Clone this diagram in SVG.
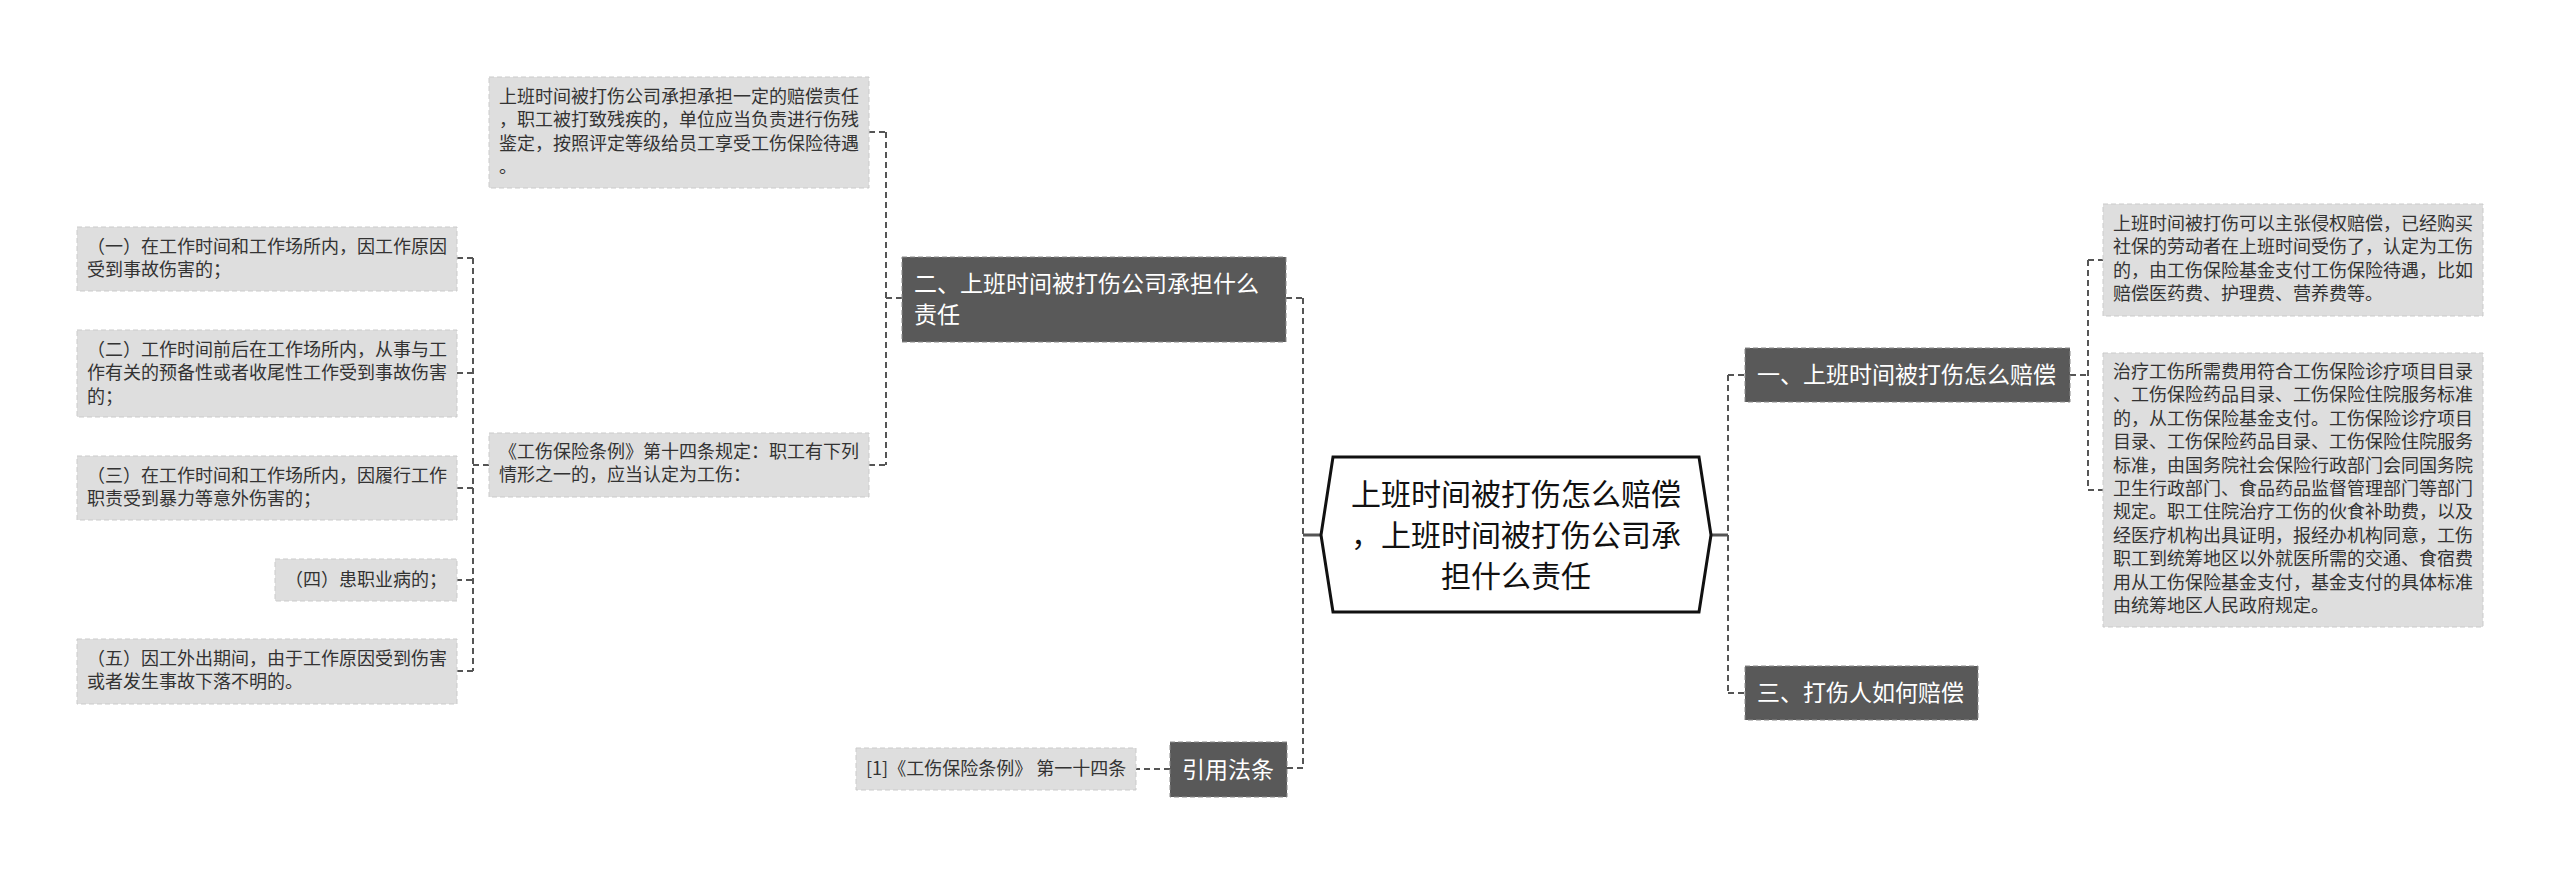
<svg xmlns="http://www.w3.org/2000/svg" width="2560" height="874" viewBox="0 0 2560 874">
<style>
.bg{fill:#ffffff}
.leaf{fill:#dedede;stroke:#cbcbcb;stroke-width:1;stroke-dasharray:5 3}
.topic{fill:#595959;stroke:#8a8a8a;stroke-width:1;stroke-dasharray:5 3}
.root{fill:#ffffff;stroke:#111111;stroke-width:3;stroke-linejoin:miter}
.lt{font-family:"Noto Sans CJK SC","Noto Sans",sans-serif;font-size:18px;fill:#333333}
.tt{font-family:"Noto Sans CJK SC","Noto Sans",sans-serif;font-size:23px;fill:#ffffff}
.rt{font-family:"Noto Sans CJK SC","Noto Sans",sans-serif;font-size:30px;fill:#111111;text-anchor:middle}
.c{fill:none;stroke:#555555;stroke-width:2;stroke-dasharray:6 4}
.s{fill:none;stroke:#555555;stroke-width:3}
</style>
<rect class="bg" x="0" y="0" width="2560" height="874"/>

<g id="connectors">
  <path class="s" d="M1303 535H1321"/>
  <path class="s" d="M1711 535H1728"/>
  <path class="c" d="M1303 298V768"/>
  <path class="c" d="M1286 298H1303"/>
  <path class="c" d="M1287 768H1303"/>
  <path class="c" d="M902 298H886"/>
  <path class="c" d="M886 132V465"/>
  <path class="c" d="M869 132H886"/>
  <path class="c" d="M869 465H886"/>
  <path class="c" d="M489 465H473"/>
  <path class="c" d="M473 258V671"/>
  <path class="c" d="M457 258H473"/>
  <path class="c" d="M457 373H473"/>
  <path class="c" d="M457 488H473"/>
  <path class="c" d="M456 580H473"/>
  <path class="c" d="M457 671H473"/>
  <path class="c" d="M1170 769H1136"/>
  <path class="c" d="M1728 375V693"/>
  <path class="c" d="M1728 375H1745"/>
  <path class="c" d="M1728 693H1745"/>
  <path class="c" d="M2070 375H2088"/>
  <path class="c" d="M2088 260V490"/>
  <path class="c" d="M2088 260H2103"/>
  <path class="c" d="M2088 490H2103"/>
</g>

<g id="root">
  <polygon class="root" points="1333,457 1699,457 1711,535 1699,612 1333,612 1321,535"/>
  <text class="rt" x="1516" y="505">上班时间被打伤怎么赔偿</text>
  <text class="rt" x="1516" y="546">，上班时间被打伤公司承</text>
  <text class="rt" x="1516" y="587">担什么责任</text>
</g>

<g id="topic-2">
  <rect class="topic" x="902" y="257" width="384" height="85"/>
  <text class="tt" x="914" y="292">二、上班时间被打伤公司承担什么</text>
  <text class="tt" x="914" y="323">责任</text>
</g>

<g id="leaf-2a">
  <rect class="leaf" x="489" y="77" width="380" height="111"/>
  <text class="lt" x="499" y="103">上班时间被打伤公司承担承担一定的赔偿责任</text>
  <text class="lt" x="499" y="126.4">，职工被打致残疾的，单位应当负责进行伤残</text>
  <text class="lt" x="499" y="149.8">鉴定，按照评定等级给员工享受工伤保险待遇</text>
  <text class="lt" x="499" y="173.2">。</text>
</g>

<g id="leaf-2b">
  <rect class="leaf" x="489" y="433" width="380" height="64"/>
  <text class="lt" x="499" y="458">《工伤保险条例》第十四条规定：职工有下列</text>
  <text class="lt" x="499" y="481.4">情形之一的，应当认定为工伤：</text>
</g>

<g id="item-1">
  <rect class="leaf" x="77" y="227" width="380" height="64"/>
  <text class="lt" x="87" y="253">（一）在工作时间和工作场所内，因工作原因</text>
  <text class="lt" x="87" y="276.4">受到事故伤害的；</text>
</g>

<g id="item-2">
  <rect class="leaf" x="77" y="330" width="380" height="87"/>
  <text class="lt" x="87" y="356">（二）工作时间前后在工作场所内，从事与工</text>
  <text class="lt" x="87" y="379.4">作有关的预备性或者收尾性工作受到事故伤害</text>
  <text class="lt" x="87" y="402.8">的；</text>
</g>

<g id="item-3">
  <rect class="leaf" x="77" y="456" width="380" height="64"/>
  <text class="lt" x="87" y="482">（三）在工作时间和工作场所内，因履行工作</text>
  <text class="lt" x="87" y="505.4">职责受到暴力等意外伤害的；</text>
</g>

<g id="item-4">
  <rect class="leaf" x="275" y="559" width="182" height="42"/>
  <text class="lt" x="285" y="586">（四）患职业病的；</text>
</g>

<g id="item-5">
  <rect class="leaf" x="77" y="639" width="380" height="65"/>
  <text class="lt" x="87" y="665">（五）因工外出期间，由于工作原因受到伤害</text>
  <text class="lt" x="87" y="688.4">或者发生事故下落不明的。</text>
</g>

<g id="topic-law">
  <rect class="topic" x="1170" y="742" width="117" height="55"/>
  <text class="tt" x="1182" y="778">引用法条</text>
</g>

<g id="law-1">
  <rect class="leaf" x="856" y="748" width="280" height="42"/>
  <text class="lt" x="866" y="775" xml:space="preserve">[1]《工伤保险条例》 第一十四条</text>
</g>

<g id="topic-1">
  <rect class="topic" x="1745" y="348" width="325" height="54"/>
  <text class="tt" x="1757" y="383">一、上班时间被打伤怎么赔偿</text>
</g>

<g id="leaf-1a">
  <rect class="leaf" x="2103" y="204" width="380" height="112"/>
  <text class="lt" x="2113" y="230">上班时间被打伤可以主张侵权赔偿，已经购买</text>
  <text class="lt" x="2113" y="253.4">社保的劳动者在上班时间受伤了，认定为工伤</text>
  <text class="lt" x="2113" y="276.8">的，由工伤保险基金支付工伤保险待遇，比如</text>
  <text class="lt" x="2113" y="300.2">赔偿医药费、护理费、营养费等。</text>
</g>

<g id="leaf-1b">
  <rect class="leaf" x="2103" y="353" width="380" height="274"/>
  <text class="lt" x="2113" y="378">治疗工伤所需费用符合工伤保险诊疗项目目录</text>
  <text class="lt" x="2113" y="401.4">、工伤保险药品目录、工伤保险住院服务标准</text>
  <text class="lt" x="2113" y="424.8">的，从工伤保险基金支付。工伤保险诊疗项目</text>
  <text class="lt" x="2113" y="448.2">目录、工伤保险药品目录、工伤保险住院服务</text>
  <text class="lt" x="2113" y="471.6">标准，由国务院社会保险行政部门会同国务院</text>
  <text class="lt" x="2113" y="495">卫生行政部门、食品药品监督管理部门等部门</text>
  <text class="lt" x="2113" y="518.4">规定。职工住院治疗工伤的伙食补助费，以及</text>
  <text class="lt" x="2113" y="541.8">经医疗机构出具证明，报经办机构同意，工伤</text>
  <text class="lt" x="2113" y="565.2">职工到统筹地区以外就医所需的交通、食宿费</text>
  <text class="lt" x="2113" y="588.6">用从工伤保险基金支付，基金支付的具体标准</text>
  <text class="lt" x="2113" y="612">由统筹地区人民政府规定。</text>
</g>

<g id="topic-3">
  <rect class="topic" x="1745" y="666" width="233" height="54"/>
  <text class="tt" x="1757" y="701">三、打伤人如何赔偿</text>
</g>
</svg>
